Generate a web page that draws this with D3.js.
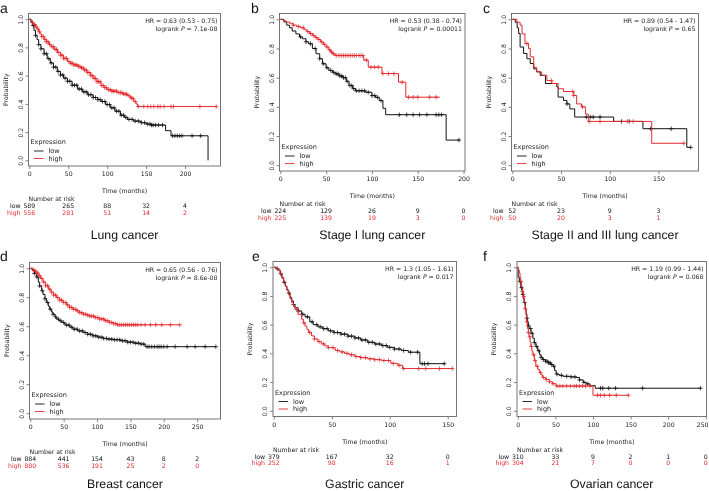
<!DOCTYPE html>
<html><head><meta charset="utf-8">
<script src="https://cdn.jsdelivr.net/npm/d3@7"></script>
<style>body{margin:0;background:#fff}svg{display:block;will-change:transform;background:#fff}svg text{text-rendering:geometricPrecision}</style>
</head><body><svg id="c" width="709" height="491"></svg>
<script>
// ---------------- DATA ----------------
const panelLetters = ["a","b","c","d","e","f"];
const titles = ["Lung cancer","Stage I lung cancer","Stage II and III lung cancer","Breast cancer","Gastric cancer","Ovarian cancer"];
const hrTexts = ["HR = 0.63 (0.53 - 0.75)","HR = 0.53 (0.38 - 0.74)","HR = 0.89 (0.54 - 1.47)","HR = 0.65 (0.56 - 0.76)","HR = 1.3 (1.05 - 1.61)","HR = 1.19 (0.99 - 1.44)"];
const pValues = ["7.1e-08","0.00011","0.65","8.6e-08","0.017","0.068"];
const yTicks = [0,0.2,0.4,0.6,0.8,1.0];
const groupLabels = ["low","high"];

// a: Lung cancer
const lungTicks = [0,50,100,150,200];
const lungRiskLow = [589,265,88,32,4];
const lungRiskHigh = [556,281,51,14,2];
const lungLow = [[0,1],[2,0.98],[4,0.955],[6,0.92],[8,0.885],[10,0.855],[12,0.82],[15,0.79],[19,0.755],[23,0.72],[27,0.69],[31,0.66],[36,0.63],[40,0.605],[44,0.582],[49,0.56],[55,0.532],[62,0.505],[68,0.485],[75,0.465],[82,0.445],[88,0.43],[92,0.417],[98,0.395],[104,0.372],[110,0.348],[117,0.32],[122,0.305],[126,0.29],[134,0.278],[143,0.267],[150,0.257],[156,0.25],[175,0.21],[182,0.174],[229.5,0]];
const lungHigh = [[0,1],[2,0.99],[4,0.975],[6,0.962],[8,0.945],[10,0.93],[12,0.91],[14,0.895],[16,0.877],[19,0.857],[22,0.84],[25,0.822],[28,0.805],[32,0.786],[36,0.765],[40,0.745],[44,0.722],[49,0.70],[53,0.688],[57,0.676],[62,0.665],[66,0.655],[70,0.64],[74,0.622],[79,0.60],[83,0.58],[87,0.557],[92,0.53],[96,0.515],[100,0.50],[106,0.49],[113,0.48],[120,0.47],[126,0.457],[130,0.44],[134,0.417],[137,0.40],[139,0.381],[240,0.381]];
const lungLowCens = [5,8,12,15,19,22,25,28,31,34,37,40,43,46,49,52,55,58,61,64,67,70,73,76,79,82,85,88,91,94,97,100,103,106,109,112,115,118,121,124,128,132,136,140,144,148,152,155,157,159,162,166,171,184,187,190,193,196,209,220];
const lungHighCens = [4,7,9,11,13,16,18,20,22,24,26,29,31,33,35,37,40,42,44,46,48,51,53,55,57,59,61,63,65,67,69,71,73,75,77,79,81,83,85,87,89,91,93,95,97,99,102,104,106,108,110,112,115,117,119,121,123,125,128,131,133,136,140,147,152,156,160,165,168,173,182,185,219,240];

// b: Stage I lung cancer
const st1Ticks = [0,50,100,150,200];
const st1RiskLow = [224,129,26,9,0];
const st1RiskHigh = [225,139,19,3,0];
const st1Low = [[0,1],[4,0.982],[7,0.96],[10,0.942],[13,0.92],[17,0.90],[21,0.88],[24,0.867],[28,0.846],[31,0.833],[35,0.8],[39,0.764],[43,0.73],[46,0.695],[50,0.668],[53,0.65],[57,0.637],[60,0.626],[64,0.612],[68,0.6],[72,0.575],[75,0.546],[79,0.525],[82,0.51],[93,0.5],[100,0.477],[104,0.465],[108,0.443],[112,0.39],[115,0.346],[181,0.172],[196,0.172]];
const st1High = [[0,1],[3,0.991],[6,0.982],[10,0.973],[14,0.96],[18,0.951],[22,0.942],[26,0.929],[29,0.916],[32,0.903],[35,0.89],[38,0.876],[41,0.862],[44,0.845],[47,0.828],[50,0.81],[53,0.79],[55,0.775],[57,0.764],[60,0.752],[91,0.72],[96,0.672],[111,0.628],[129,0.569],[137,0.466],[174,0.466]];
const st1LowCens = [22,28,33,38,43,47,51,55,58,61,63,65,67,69,71,73,76,78,80,83,86,89,92,96,100,103,106,110,130,138,145,152,160,170,173,176,195];
const st1HighCens = [14,20,25,30,33,36,39,42,45,48,51,54,56,58,61,63,65,67,69,71,73,75,77,79,81,83,86,88,90,94,99,103,107,112,118,124,133,140,145,150,163,170];

// c: Stage II and III lung cancer
const st23Ticks = [0,50,100,150];
const st23RiskLow = [52,23,9,3];
const st23RiskHigh = [50,20,3,1];
const st23Low = [[0,1],[3,0.98],[5,0.942],[6.5,0.903],[8,0.81],[11.6,0.766],[15,0.73],[18.4,0.697],[22,0.66],[25,0.64],[28.6,0.616],[34,0.56],[45.7,0.536],[47,0.467],[52.5,0.444],[56,0.42],[59,0.386],[64,0.33],[104,0.30],[134,0.25],[179,0.122],[183,0.122]];
const st23High = [[0,1],[4.8,0.98],[8,0.96],[10,0.9],[13,0.834],[16.7,0.80],[18.4,0.743],[22,0.67],[25,0.64],[30,0.616],[35.5,0.58],[40.6,0.56],[47,0.524],[52.5,0.505],[63,0.478],[66,0.42],[71,0.40],[75,0.35],[78,0.30],[143,0.15],[176,0.15]];
const st23LowCens = [56,76,80,83,90,112,120,142,163,183];
const st23HighCens = [15,40,62,63,72,79,90,118,124,176];

// d: Breast cancer
const brTicks = [0,50,100,150,200,250];
const brRiskLow = [884,441,154,43,8,2];
const brRiskHigh = [880,536,191,25,2,0];
const brLow = [[0,1],[3,0.985],[6,0.965],[9,0.94],[12,0.905],[14,0.878],[17,0.845],[19,0.82],[22,0.79],[24,0.764],[27,0.738],[29,0.718],[32,0.698],[34,0.683],[37,0.665],[39,0.65],[43,0.637],[47,0.626],[51,0.615],[54,0.608],[59,0.594],[64,0.58],[71,0.568],[79,0.557],[86,0.545],[94,0.534],[101,0.525],[109,0.516],[116,0.511],[124,0.507],[135,0.5],[145,0.49],[155,0.483],[165,0.477],[172,0.459],[278,0.459]];
const brHigh = [[0,1],[3,0.99],[6,0.98],[9,0.968],[12,0.95],[15,0.93],[19,0.905],[23,0.88],[27,0.856],[31,0.835],[35,0.815],[39,0.798],[44,0.78],[49,0.764],[54,0.747],[59,0.73],[64,0.717],[69,0.706],[74,0.694],[79,0.683],[84,0.677],[89,0.67],[96,0.66],[104,0.65],[111,0.638],[119,0.626],[125,0.618],[130,0.61],[224,0.61]];
const brLowCens = [6,10,14,18,22,26,30,34,38,42,46,50,54,58,62,66,70,74,78,82,86,90,94,98,102,106,110,114,118,122,126,130,134,138,142,146,150,154,158,162,166,170,175,178,182,186,190,193,196,200,205,217,235,247,262,278];
const brHighCens = [5,8,11,14,17,20,23,26,29,32,35,38,41,44,47,50,53,56,59,62,65,68,71,74,77,80,83,86,89,92,95,98,101,104,107,110,113,116,119,122,125,128,131,134,137,140,143,146,149,152,155,158,161,166,172,180,188,197,210,224];

// e: Gastric cancer
const gaTicks = [0,50,100,150];
const gaRiskLow = [379,167,32,0];
const gaRiskHigh = [252,98,16,1];
const gaLow = [[0,1],[2,0.99],[4,0.98],[5.5,0.955],[7,0.924],[8.5,0.895],[10,0.867],[11.3,0.842],[12.6,0.82],[14,0.79],[15.5,0.764],[17,0.74],[18.3,0.718],[21,0.695],[24,0.672],[27,0.654],[31,0.62],[34,0.6],[38,0.585],[42,0.572],[47,0.557],[52,0.545],[58,0.534],[64,0.52],[70,0.507],[75,0.493],[81,0.477],[87,0.465],[93,0.454],[98,0.442],[104,0.43],[110,0.42],[116,0.408],[126,0.328],[148,0.328]];
const gaHigh = [[0,1],[2,0.99],[4,0.98],[5.5,0.957],[7,0.93],[8.5,0.9],[10,0.867],[11.3,0.84],[12.6,0.81],[14,0.78],[15.5,0.752],[17,0.728],[18.3,0.706],[21,0.672],[24,0.638],[25.5,0.612],[27,0.59],[28.5,0.567],[30,0.546],[32.5,0.522],[35,0.50],[38,0.482],[41,0.466],[44,0.452],[47,0.44],[53,0.42],[57,0.41],[61,0.40],[65,0.39],[70,0.378],[75,0.37],[81,0.362],[87,0.356],[93,0.35],[101,0.33],[107,0.317],[111,0.294],[154,0.294]];
const gaLowCens = [3,6,9,13,17,21,25,29,33,37,40,43,46,49,52,55,58,61,64,67,70,73,76,79,82,85,88,91,94,97,100,104,108,112,118,124,128,130,133,147];
const gaHighCens = [20,26,31,35,39,43,47,51,55,59,63,67,71,75,79,83,87,91,95,99,103,108,112,125,131,143,154];

// f: Ovarian cancer
const ovTicks = [0,50,100,150,200,250];
const ovRiskLow = [310,33,9,2,1,0];
const ovRiskHigh = [304,21,7,0,0,0];
const ovLow = [[0,1],[0.5,0.93],[2,0.90],[4,0.857],[6,0.81],[7.3,0.78],[8.5,0.755],[10,0.71],[11,0.675],[12,0.645],[13,0.618],[14,0.595],[15,0.573],[17.5,0.54],[20,0.505],[22,0.475],[24,0.448],[26.5,0.418],[29,0.39],[31,0.372],[33,0.357],[36.5,0.345],[40,0.334],[43.5,0.322],[47,0.31],[49,0.28],[51,0.255],[55,0.247],[60,0.24],[70,0.236],[78,0.232],[82,0.215],[87,0.198],[91,0.187],[96,0.175],[103,0.157],[243,0.157]];
const ovHigh = [[0,1],[1,0.98],[2,0.96],[3,0.93],[4,0.90],[5,0.867],[6,0.834],[7.3,0.795],[8.5,0.755],[9.7,0.71],[11,0.664],[12,0.62],[13,0.573],[14,0.545],[15,0.516],[16.3,0.48],[17.5,0.448],[18.7,0.418],[20,0.39],[22,0.35],[24,0.31],[26.5,0.288],[29,0.266],[31,0.25],[33,0.232],[37,0.218],[42,0.202],[46,0.188],[51,0.172],[100,0.108],[147,0.108]];
const ovLowCens = [3,5,7,9,12,14,17,19,22,25,28,31,34,37,39,41,43,45,48,52,58,65,71,76,82,88,93,110,113,121,130,166,243];
const ovHighCens = [4,6,8,10,12,14,16,18,21,23,26,30,34,38,42,47,52,56,60,65,70,75,78,82,86,90,96,106,110,115,122,131,147];

// ---------------- LAYOUT ----------------
const layout = [
  {L:28.5, T:13.5, R:220.5, B:166,   xMax:245.5, titleY:239, letterX:0,   letterY:12.5},
  {L:279.5,T:13.5, R:465,   B:171,   xMax:201.6, titleY:239, letterX:251, letterY:12.5},
  {L:511.5,T:13.5, R:698.5, B:171,   xMax:191,   titleY:239, letterX:483, letterY:12.5},
  {L:29.5, T:262.5,R:220.5, B:419,   xMax:285,   titleY:488, letterX:0,   letterY:260.5},
  {L:273,  T:261.5,R:456.5, B:416.5, xMax:157.6, titleY:488, letterX:252, letterY:260.5},
  {L:517,  T:261.5,R:706.5, B:416.5, xMax:251,   titleY:488, letterX:483, letterY:260.5}
];
const panelData = [
  {ticks:lungTicks, riskLow:lungRiskLow, riskHigh:lungRiskHigh, low:lungLow, high:lungHigh, lowC:lungLowCens, highC:lungHighCens},
  {ticks:st1Ticks, riskLow:st1RiskLow, riskHigh:st1RiskHigh, low:st1Low, high:st1High, lowC:st1LowCens, highC:st1HighCens},
  {ticks:st23Ticks, riskLow:st23RiskLow, riskHigh:st23RiskHigh, low:st23Low, high:st23High, lowC:st23LowCens, highC:st23HighCens},
  {ticks:brTicks, riskLow:brRiskLow, riskHigh:brRiskHigh, low:brLow, high:brHigh, lowC:brLowCens, highC:brHighCens},
  {ticks:gaTicks, riskLow:gaRiskLow, riskHigh:gaRiskHigh, low:gaLow, high:gaHigh, lowC:gaLowCens, highC:gaHighCens},
  {ticks:ovTicks, riskLow:ovRiskLow, riskHigh:ovRiskHigh, low:ovLow, high:ovHigh, lowC:ovLowCens, highC:ovHighCens}
];

const RED = "#e4292e", BLACK = "#111", FRAME = "#666", TXT = "#222";
const SMALL = "'DejaVu Sans', sans-serif", BIG = "'Liberation Sans', Arial, sans-serif";
const fs = 6.2;
const W = 709;
const svg = d3.select("#c");
const bis = d3.bisector(d => d[0]).right;
function survAt(steps, t){ const i = bis(steps, t) - 1; return steps[Math.max(0,i)][1]; }

layout.forEach((ly, k) => {
  const pd = panelData[k];
  const g = svg.append("g");
  const x = d3.scaleLinear().domain([0, ly.xMax]).range([ly.L + 0.8, ly.R]);
  const y = d3.scaleLinear().domain([-0.04, 1.04]).range([ly.B, ly.T]);

  // axes
  const xa = g.append("g").attr("transform", `translate(0,${ly.B})`)
    .call(d3.axisBottom(x).tickValues(pd.ticks).tickSize(3).tickPadding(3).tickFormat(d3.format("d")));
  xa.select(".domain").remove();
  xa.selectAll("line").attr("stroke", FRAME).attr("stroke-width", 0.8);
  xa.selectAll("text").attr("font-family", SMALL).attr("font-size", fs).attr("fill", TXT);
  // keep a tick label that would run past the window edge inside it
  xa.selectAll(".tick").each(function(d){
    const xp = x(d);
    if (xp + 6 > W) d3.select(this).select("text").attr("text-anchor", "end").attr("x", W - 1 - xp);
  });
  const ya = g.append("g").attr("transform", `translate(${ly.L},0)`)
    .call(d3.axisLeft(y).tickValues(yTicks).tickSize(3).tickFormat(d3.format(".1f")));
  ya.select(".domain").remove();
  ya.selectAll("line").attr("stroke", FRAME).attr("stroke-width", 0.8);
  ya.selectAll("text").attr("font-family", SMALL).attr("font-size", fs).attr("fill", TXT)
    .attr("x", null).attr("dy", null).attr("text-anchor", "middle")
    .attr("transform", "translate(-6,0) rotate(-90)");

  // frame
  g.append("rect").attr("x", ly.L).attr("y", ly.T).attr("width", ly.R - ly.L).attr("height", ly.B - ly.T)
    .attr("fill", "none").attr("stroke", FRAME).attr("stroke-width", 0.9);

  // curves
  const line = d3.line().x(d => x(d[0])).y(d => y(d[1])).curve(d3.curveStepAfter);
  [[pd.low, pd.lowC, BLACK],[pd.high, pd.highC, RED]].forEach(([steps, cens, col]) => {
    g.append("path").datum(steps).attr("d", line).attr("fill", "none").attr("stroke", col).attr("stroke-width", 1);
    const cg = g.append("g").attr("stroke", col).attr("stroke-width", 0.75);
    cens.forEach(t => {
      const cx = x(t), cy = y(survAt(steps, t));
      cg.append("line").attr("x1", cx).attr("x2", cx).attr("y1", cy - 2.2).attr("y2", cy + 2.2);
      cg.append("line").attr("x1", cx - 2.2).attr("x2", cx + 2.2).attr("y1", cy).attr("y2", cy);
    });
  });

  // HR + p text
  g.append("text").attr("x", ly.R - 3).attr("y", ly.T + 9.5).attr("text-anchor", "end")
    .attr("font-family", SMALL).attr("font-size", fs).attr("fill", TXT).text(hrTexts[k]);
  const pt = g.append("text").attr("x", ly.R - 3).attr("y", ly.T + 17).attr("text-anchor", "end")
    .attr("font-family", SMALL).attr("font-size", fs).attr("fill", TXT);
  pt.append("tspan").text("logrank ");
  pt.append("tspan").attr("font-style", "italic").text("P");
  pt.append("tspan").text(" = " + pValues[k]);

  // legend
  g.append("text").attr("x", ly.L + 2).attr("y", ly.B - 22).attr("font-family", SMALL).attr("font-size", fs + 0.3).attr("fill", TXT).text("Expression");
  [[BLACK, ly.B - 15, groupLabels[0]],[RED, ly.B - 7.5, groupLabels[1]]].forEach(([col, yy, lab]) => {
    g.append("line").attr("x1", ly.L + 5.5).attr("x2", ly.L + 15).attr("y1", yy).attr("y2", yy).attr("stroke", col).attr("stroke-width", 0.9);
    g.append("text").attr("x", ly.L + 20).attr("y", yy + 2.3).attr("font-family", SMALL).attr("font-size", fs + 0.3).attr("fill", TXT).text(lab);
  });

  // axis titles
  g.append("text").attr("transform", `translate(${ly.L - 21},${(ly.T + ly.B) / 2}) rotate(-90)`)
    .attr("text-anchor", "middle").attr("font-family", SMALL).attr("font-size", fs).attr("fill", TXT).text("Probability");
  g.append("text").attr("x", (ly.L + ly.R) / 2).attr("y", ly.B + 27).attr("text-anchor", "middle")
    .attr("font-family", SMALL).attr("font-size", fs).attr("fill", TXT).text("Time (months)");

  // number at risk
  g.append("text").attr("x", ly.L).attr("y", ly.B + 35).attr("font-family", SMALL).attr("font-size", fs).attr("fill", TXT).text("Number at risk");
  [[pd.riskLow, BLACK, groupLabels[0], ly.B + 42],[pd.riskHigh, RED, groupLabels[1], ly.B + 48.5]].forEach(([vals, col, lab, yy]) => {
    g.append("text").attr("x", ly.L - 8).attr("y", yy).attr("text-anchor", "end").attr("font-family", SMALL).attr("font-size", fs).attr("fill", col).text(lab);
    pd.ticks.forEach((t, i) => {
      g.append("text").attr("x", x(t)).attr("y", yy).attr("text-anchor", "middle").attr("font-family", SMALL).attr("font-size", fs).attr("fill", col).text(vals[i]);
    });
  });

  // title + panel letter
  g.append("text").attr("x", (ly.L + ly.R) / 2).attr("y", ly.titleY).attr("text-anchor", "middle")
    .attr("font-family", BIG).attr("font-size", 12.3).attr("fill", "#111").text(titles[k]);
  g.append("text").attr("x", ly.letterX).attr("y", ly.letterY)
    .attr("font-family", BIG).attr("font-size", 14).attr("fill", "#111").text(panelLetters[k]);
});
</script></body></html>
